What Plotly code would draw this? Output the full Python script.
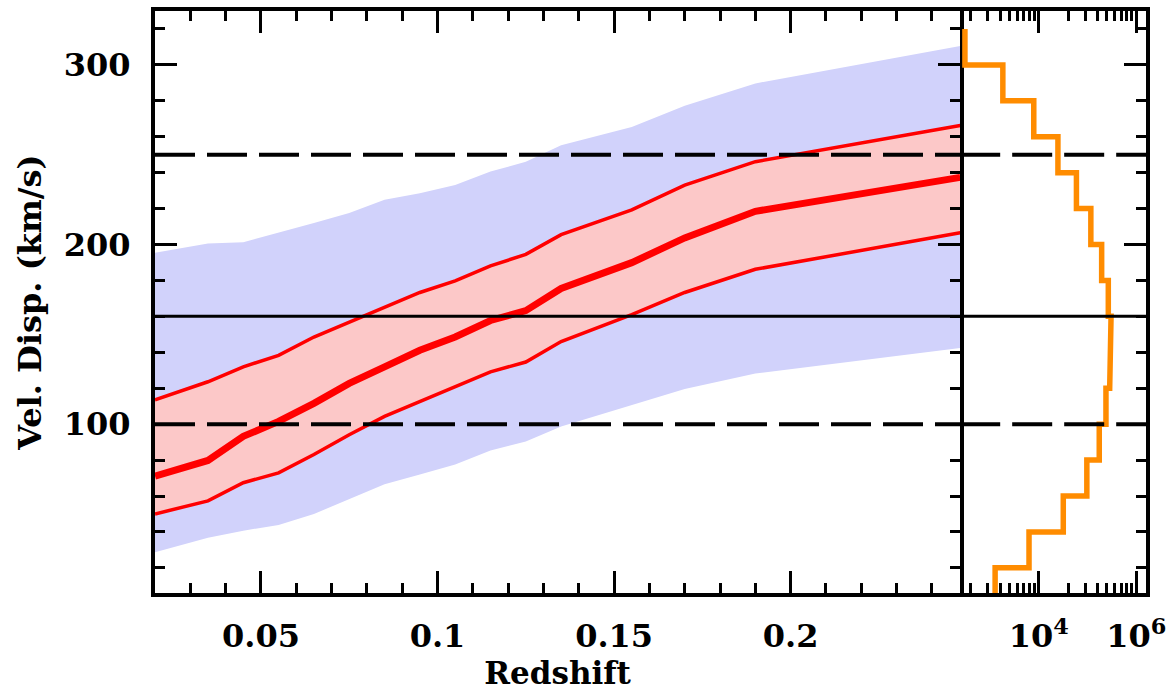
import numpy as np
import plotly.graph_objects as go

# ---- data ----
redshift = [0.02, 0.035, 0.045, 0.055, 0.065, 0.075, 0.085, 0.095, 0.105,
            0.115, 0.125, 0.135, 0.155, 0.17, 0.19, 0.248]
vd_median = [71.1, 79.8, 93.2, 101.5, 111.6, 122.7, 131.9, 141.1, 148.5,
             157.7, 163.2, 175.5, 189.9, 203.7, 218.5, 237.4]
vd_red_hi = [113.5, 123.6, 131.9, 138.3, 148.5, 156.7, 165.0, 173.3, 179.8,
             188.1, 194.5, 205.5, 219.3, 233.1, 246.1, 266.3]
vd_red_lo = [50.0, 57.3, 67.4, 72.9, 83.1, 94.1, 104.3, 112.5, 120.8,
             129.1, 134.6, 146.0, 161.0, 173.3, 186.2, 206.5]
vd_blue_hi = [195.4, 200.6, 201.3, 206.5, 212.0, 217.5, 224.9, 228.6, 233.1,
              240.6, 246.1, 255.2, 265.4, 277.3, 289.7, 310.5]
vd_blue_lo = [28.7, 36.7, 40.7, 43.9, 50.0, 58.2, 66.5, 72.0, 77.6,
              85.3, 90.4, 98.7, 110.7, 119.6, 128.2, 142.4]

hist_edges = [0, 20, 40, 60, 80, 100, 120, 140, 160, 180, 200, 220, 240,
              260, 280, 300, 320]
hist_counts = [1270, 6300, 31800, 96800, 174000, 239000, 285000, 304000,
               267000, 195000, 117000, 59200, 24700, 7890, 1830, 305]

ref_solid = [160]
ref_dashed = [100, 250]

x_tick_vals = [0.05, 0.1, 0.15, 0.2]
x_tick_text = ["0.05", "0.1", "0.15", "0.2"]
x2_tick_vals = [1e4, 1e6]
x2_tick_text = ["10<sup>4</sup>", "10<sup>6</sup>"]
x2_minor_vals = [100 * k * k for k in range(2, 10)] + [1e4 * k * k for k in range(2, 10)]

# ---- styles ----
TICKFONT = dict(family="DejaVu Serif", size=32, color="black", weight="bold")
XTITLEFONT = dict(family="DejaVu Serif", size=31, color="black", weight="bold")
YTITLEFONT = dict(family="DejaVu Serif", size=32, color="black", weight="bold")
BLUE_FILL = "rgb(209,210,251)"
RED_FILL = "rgb(252,200,200)"
RED = "rgb(255,0,0)"
ORANGE = "rgb(255,140,0)"

fig = go.Figure()

# blue band
fig.add_trace(go.Scatter(x=redshift, y=vd_blue_lo, mode="lines", line=dict(width=0),
                         showlegend=False, hoverinfo="skip"))
fig.add_trace(go.Scatter(x=redshift, y=vd_blue_hi, mode="lines", line=dict(width=0),
                         fill="tonexty", fillcolor=BLUE_FILL, showlegend=False, hoverinfo="skip"))
# red band
fig.add_trace(go.Scatter(x=redshift, y=vd_red_lo, mode="lines", line=dict(width=0),
                         showlegend=False, hoverinfo="skip"))
fig.add_trace(go.Scatter(x=redshift, y=vd_red_hi, mode="lines", line=dict(width=0),
                         fill="tonexty", fillcolor=RED_FILL, showlegend=False, hoverinfo="skip"))
# red lines
fig.add_trace(go.Scatter(x=redshift, y=vd_red_lo, mode="lines", line=dict(color=RED, width=3.5),
                         showlegend=False))
fig.add_trace(go.Scatter(x=redshift, y=vd_red_hi, mode="lines", line=dict(color=RED, width=3.5),
                         showlegend=False))
fig.add_trace(go.Scatter(x=redshift, y=vd_median, mode="lines", line=dict(color=RED, width=7),
                         showlegend=False))

# histogram step (right panel)
step_x = np.repeat(hist_counts, 2)
step_y = np.column_stack([hist_edges[:-1], hist_edges[1:]]).ravel()
fig.add_trace(go.Scatter(x=step_x, y=step_y, mode="lines",
                         line=dict(color=ORANGE, width=5.5),
                         xaxis="x2", yaxis="y2", showlegend=False))

# reference lines in both panels
for xref, yref in (("x domain", "y"), ("x2 domain", "y2")):
    for v in ref_solid:
        fig.add_shape(type="line", xref=xref, yref=yref, x0=0, x1=1, y0=v, y1=v,
                      line=dict(color="black", width=3), layer="above")
    for v in ref_dashed:
        fig.add_shape(type="line", xref=xref, yref=yref, x0=0, x1=1, y0=v, y1=v,
                      line=dict(color="black", width=4, dash="40px,12px"), layer="above")

axis_common = dict(showline=True, linewidth=4, linecolor="black", showgrid=False,
                   zeroline=False, ticks="inside", tickwidth=3, tickcolor="black",
                   tickfont=TICKFONT)

SPLIT = 0.8125
fig.update_layout(
    width=1174, height=692,
    margin=dict(l=155, r=28, t=7, b=99),
    paper_bgcolor="white", plot_bgcolor="white",
    showlegend=False,
    xaxis=dict(domain=[0, SPLIT], range=[0.02, 0.248], tickmode="array",
               tickvals=x_tick_vals, ticktext=x_tick_text, ticklen=22, mirror="allticks",
               ticklabelstandoff=12,
               minor=dict(tickmode="linear", tick0=0, dtick=0.01, ticks="inside",
                          ticklen=10, tickwidth=3, tickcolor="black"),
               title=dict(text="Redshift", font=XTITLEFONT, standoff=2),
               **axis_common),
    yaxis=dict(range=[6, 330], tickmode="linear", tick0=0, dtick=100, ticklen=22,
               mirror="allticks", ticklabelstandoff=14,
               minor=dict(tickmode="linear", tick0=0, dtick=20, ticks="inside",
                          ticklen=10, tickwidth=3, tickcolor="black"),
               title=dict(text="Vel. Disp. (km/s)", font=YTITLEFONT, standoff=14),
               **axis_common),
    xaxis2=dict(domain=[SPLIT, 1], anchor="y2", type="log", range=[2.387, 6.2],
                tickmode="array", tickvals=x2_tick_vals, ticktext=x2_tick_text,
                ticklen=22, mirror="allticks", ticklabelstandoff=12,
                minor=dict(tickmode="array", tickvals=x2_minor_vals, ticks="inside",
                           ticklen=10, tickwidth=3, tickcolor="black"),
                **axis_common),
    yaxis2=dict(anchor="x2", matches="y", range=[6, 330], side="right",
                tickmode="linear", tick0=0, dtick=100, ticklen=22, mirror=False,
                showticklabels=False,
                minor=dict(tickmode="linear", tick0=0, dtick=20, ticks="inside",
                           ticklen=10, tickwidth=3, tickcolor="black"),
                **axis_common),
)

fig.write_html("out.html", config={"displayModeBar": False},
               post_script="document.body.style.margin='0px';")
